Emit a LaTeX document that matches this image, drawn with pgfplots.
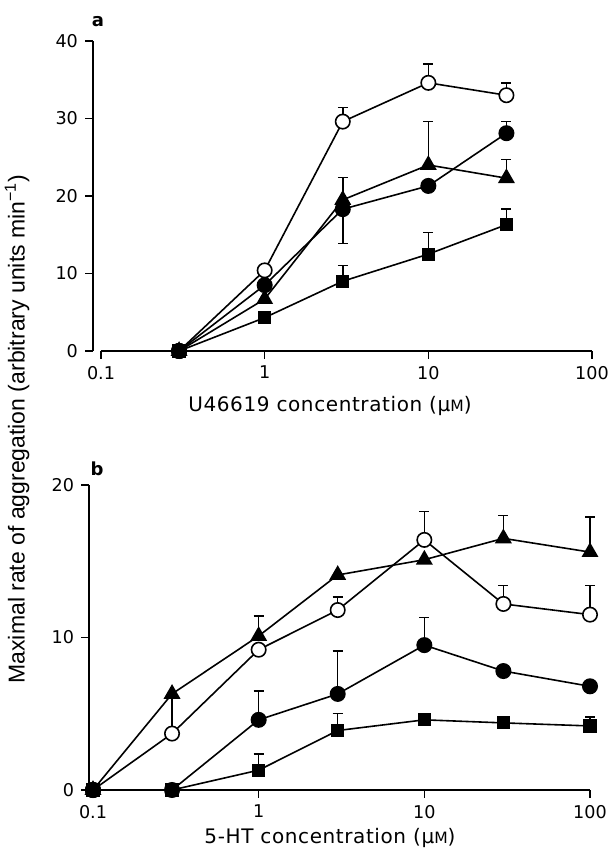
\documentclass[border=0pt]{standalone}
\usepackage{pgfplots}
\pgfplotsset{compat=1.18}
\usepackage{fontspec}
\setmainfont{Liberation Sans}
\newfontfamily\tickfont{DejaVu Sans}
\newfontfamily\labfont[LetterSpace=3]{DejaVu Sans}
\pgfplotsset{
  panel/.style={
    scale only axis, anchor=south west,
    xmin=0.1, xmax=100, ymin=0,
    axis lines=left, axis line style={-, line width=0.8pt, black},
    xtick={0.1,1,10,100}, xticklabels={0.1,1,10,100},
    xminorticks=false, yminorticks=false,
    tick align=outside, major tick length=4pt,
    tick style={black, line width=0.8pt},
    ticklabel style={font=\tickfont\fontsize{8.8}{10}\selectfont},
    clip=false,
  },
  ln/.style={black, line width=0.8pt},
  oc/.style={ln, mark=*, mark size=3.6pt, mark options={fill=white, draw=black, line width=0.8pt}},
  fc/.style={ln, mark=*, mark size=3.6pt, mark options={fill=black, draw=black}},
  tr/.style={ln, mark=triangle*, mark size=4.1pt, mark options={fill=black, draw=black}},
  sq/.style={ln, mark=square*, mark size=2.9pt, mark options={fill=black, draw=black}},
  eb/.style={draw=none, mark=none, forget plot,
    error bars/.cd, y dir=#1, y explicit,
    error bar style={draw=black, line width=0.75pt},
    error mark=-,
    error mark options={rotate=90, draw=black, line width=0.75pt, mark size=2.5pt}},
  eb/.default=plus,
}
\begin{document}
\begin{tikzpicture}[x=0.5pt,y=0.5pt]
\useasboundingbox (0,0) rectangle (609,855);
% ---------------- panel a ----------------
\begin{semilogxaxis}[panel, at={(50.5pt,252pt)}, width=245.5pt, height=155pt,
  ymax=40, ytick={0,10,20,30,40}, yticklabels={0,10,20,30,40},
  axis y line shift=4pt]
\addplot[eb] coordinates {(3,29.6) +- (0,1.8) (10,34.6) +- (0,2.4) (30,33.0) +- (0,1.6)};
\addplot[eb] coordinates {(30,28.1) +- (0,1.5)};
\addplot[eb=minus] coordinates {(3,18.3) +- (0,4.4)};
\addplot[eb] coordinates {(3,19.5) +- (0,2.9) (10,24.0) +- (0,5.6) (30,22.3) +- (0,2.4)};
\addplot[eb] coordinates {(3,9.0) +- (0,2.0) (10,12.5) +- (0,2.8) (30,16.3) +- (0,2.0)};
\addplot[sq] coordinates {(0.3,0) (1,4.3) (3,9.0) (10,12.5) (30,16.3)};
\addplot[tr] coordinates {(0.3,0) (1,6.7) (3,19.5) (10,24.0) (30,22.3)};
\addplot[fc] coordinates {(0.3,0) (1,8.5) (3,18.3) (10,21.3) (30,28.1)};
\addplot[oc] coordinates {(0.3,0) (1,10.4) (3,29.6) (10,34.6) (30,33.0)};
\addplot[fc] coordinates {(0.3,0)};
\end{semilogxaxis}
% ---------------- panel b ----------------
\begin{semilogxaxis}[panel, at={(46.5pt,32.5pt)}, width=248.5pt, height=152.5pt,
  ymax=20, ytick={0,10,20}, yticklabels={0,10,20},
  axis y line shift=2pt]
\addplot[eb] coordinates {(1,10.1) +- (0,1.3) (30,16.5) +- (0,1.5) (100,15.6) +- (0,2.3)};
\addplot[eb] coordinates {(0.3,3.7) +- (0,2.5) (3,11.8) +- (0,0.85) (10,16.4) +- (0,1.85) (30,12.2) +- (0,1.2) (100,11.5) +- (0,1.9)};
\addplot[eb] coordinates {(1,4.6) +- (0,1.9) (3,6.3) +- (0,2.8) (10,9.5) +- (0,1.8)};
\addplot[eb] coordinates {(1,1.3) +- (0,1.05) (3,3.9) +- (0,1.1) (100,4.2) +- (0,0.6)};
\addplot[sq] coordinates {(0.1,0) (0.3,0) (1,1.3) (3,3.9) (10,4.6) (30,4.4) (100,4.2)};
\addplot[fc] coordinates {(0.1,0) (0.3,0) (1,4.6) (3,6.3) (10,9.5) (30,7.8) (100,6.8)};
\addplot[oc] coordinates {(0.1,0) (0.3,3.7) (1,9.2) (3,11.8) (10,16.4) (30,12.2) (100,11.5)};
\addplot[tr] coordinates {(0.1,0) (0.3,6.3) (1,10.1) (3,14.1) (10,15.1) (30,16.5) (100,15.6)};
\addplot[fc] coordinates {(0.1,0)};
\end{semilogxaxis}
% ---------------- texts ----------------
\node[font=\tickfont\bfseries\fontsize{9}{10}\selectfont] at (98,833) {a};
\node[font=\tickfont\bfseries\fontsize{9}{10}\selectfont] at (97,386) {b};
\node[font=\labfont\fontsize{10}{11}\selectfont] at (330,449) {U46619 concentration (μ{\fontsize{7.8}{8}\selectfont M})};
\node[font=\labfont\fontsize{10}{11}\selectfont] at (330,17) {5-HT concentration (μ{\fontsize{7.8}{8}\selectfont M})};
\node[rotate=90, font=\fontsize{11.5}{12}\selectfont] at (17,426) {Maximal rate of aggregation (arbitrary units min\textsuperscript{−1})};
\end{tikzpicture}
\end{document}
